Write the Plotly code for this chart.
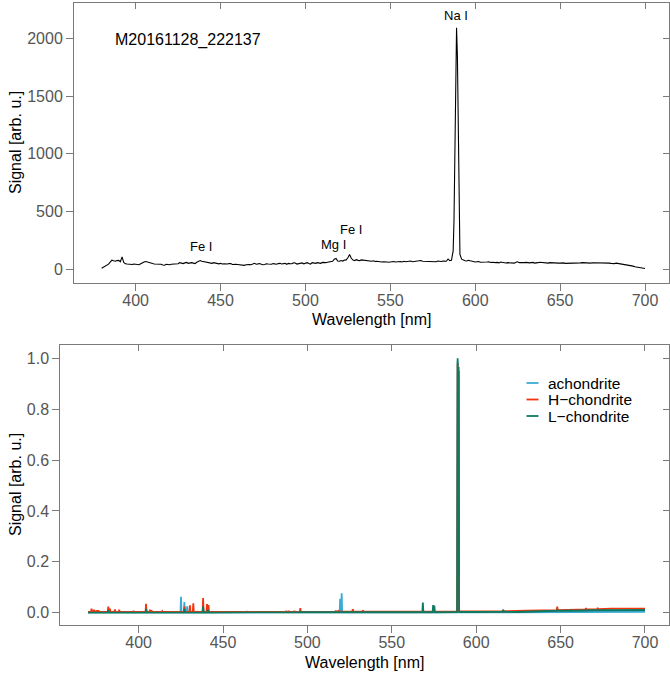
import plotly.graph_objects as go

# ---------------- top panel: single meteor spectrum ----------------
top_wavelength = (list(range(380, 586))
                  + [586, 587, 587.5, 588, 588.5, 589, 589.5, 590, 590.5, 591]
                  + list(range(592, 701)))
top_signal = [
    10, 18, 28, 36, 45, 62, 80, 74, 70, 76,     # 380-389
    78, 66, 108, 60, 48, 46, 45, 40, 42, 46,    # 390-399
    44, 38, 40, 48, 58, 64, 68, 62, 62, 55,     # 400-409
    50, 46, 46, 42, 40, 44, 38, 36, 44, 40,     # 410-419
    40, 44, 46, 50, 52, 48, 58, 54, 50, 56,     # 420-429
    60, 52, 56, 58, 54, 50, 62, 66, 76, 70,     # 430-439
    66, 62, 60, 56, 55, 52, 58, 54, 50, 48,     # 440-449
    52, 46, 48, 44, 46, 50, 50, 42, 45, 44,     # 450-459
    42, 40, 38, 36, 35, 40, 44, 42, 40, 48,     # 460-469
    52, 44, 48, 50, 45, 40, 42, 48, 46, 44,     # 470-479
    44, 50, 48, 44, 50, 52, 46, 50, 52, 44,     # 480-489
    52, 48, 48, 56, 55, 46, 50, 56, 56, 48,     # 490-499
    54, 58, 50, 46, 58, 54, 52, 58, 56, 52,     # 500-509
    60, 56, 58, 62, 66, 64, 70, 88, 95, 72,     # 510-519
    70, 76, 72, 80, 82, 100, 128, 96, 80, 76,   # 520-529
    84, 78, 76, 82, 80, 74, 78, 72, 72, 70,     # 530-539
    74, 68, 70, 66, 68, 64, 66, 62, 64, 62,     # 540-549
    66, 68, 68, 64, 66, 70, 68, 64, 70, 66,     # 550-559
    70, 68, 72, 66, 68, 70, 74, 72, 76, 70,     # 560-569
    70, 66, 68, 64, 66, 70, 70, 66, 72, 68,     # 570-579
    68, 72, 74, 70, 90, 76,                     # 580-585
    78, 160, 420, 1150, 1900, 2090, 1850, 1050, 380, 130,  # Na I peak 586-591
    88, 80, 74, 72, 78, 74, 70, 66,             # 592-599
    64, 66, 68, 62, 62, 58, 60, 64, 66, 60,     # 600-609
    62, 58, 58, 60, 56, 64, 60, 58, 55, 58,     # 610-619
    57, 60, 56, 54, 62, 66, 58, 56, 54, 58,     # 620-629
    60, 56, 56, 58, 60, 54, 54, 58, 62, 60,     # 630-639
    56, 54, 56, 54, 58, 56, 54, 52, 56, 54,     # 640-649
    54, 56, 56, 52, 52, 54, 54, 56, 52, 50,     # 650-659
    54, 52, 56, 58, 56, 54, 54, 52, 54, 57,     # 660-669
    57, 60, 60, 58, 56, 54, 54, 58, 58, 54,     # 670-679
    52, 50, 50, 54, 52, 48, 46, 44, 44, 42,     # 680-689
    38, 36, 32, 28, 22, 20, 18, 14, 12, 10,     # 690-699
    8,                                          # 700
]
top_labels = ["Na I", "Fe I", "Mg I", "Fe I"]
top_label_x = [588.8, 438.4, 516.5, 527.1]
top_label_y = [2196, 202, 214, 343]
meteor_id = "M20161128_222137"

# ---------------- bottom panel: normalised reference spectra ----------------
achondrite_wl = [370, 372.0, 372.3, 372.6, 380, 382.0, 382.3, 382.6, 395,
                 424.8, 425.1, 425.4, 426.8, 427.1, 427.4, 428.5, 428.8, 429.1,
                 434.5, 434.8, 435.1, 438.0, 438.3, 438.6, 450,
                 463.8, 464.1, 464.4, 500, 519.1, 519.4, 519.7, 520.0, 520.3, 520.6,
                 550, 588.7, 589.0, 589.3, 589.6, 589.9, 620, 650, 700]
achondrite_sig = [0.001, 0.002, 0.009, 0.002, 0.002, 0.002, 0.008, 0.002, 0.002,
                  0.002, 0.063, 0.002, 0.002, 0.042, 0.002, 0.002, 0.025, 0.002,
                  0.002, 0.006, 0.002, 0.002, 0.012, 0.002, 0.002,
                  0.002, 0.006, 0.002, 0.002, 0.002, 0.055, 0.003, 0.003, 0.077, 0.002,
                  0.002, 0.002, 0.99, 0.5, 0.95, 0.002, 0.002, 0.003, 0.004]

h_wl = [370, 371.8, 372.1, 372.4, 373.2, 373.5, 373.8, 374.7, 375.0, 375.3, 375.9, 376.2, 376.5,
        381.7, 382.0, 382.3, 382.7, 383.0, 383.3, 385.7, 386.0, 386.3, 388.2, 388.5, 388.8,
        396.7, 397.0, 397.3, 404.1, 404.4, 404.7, 406.4, 406.7, 407.0, 407.3, 407.6, 407.9,
        413.7, 414.0, 414.3, 426.9, 427.2, 427.5, 430.1, 430.4, 430.7, 432.1, 432.4, 432.7,
        437.9, 438.2, 438.5, 440.2, 440.5, 440.8, 441.1, 441.4, 441.7,
        470, 487.2, 487.5, 487.8, 488.7, 489.0, 489.3, 492.0, 492.3, 492.6,
        495.5, 495.8, 496.1, 516.5, 516.8, 517.1, 518.1, 518.4, 518.7,
        526.6, 526.9, 527.2, 532.6, 532.9, 533.2, 560,
        588.7, 589.0, 589.3, 589.6, 589.9, 600, 615.7, 616.0, 616.3, 630,
        647.7, 648.0, 648.3, 660, 664.7, 665.0, 665.3, 671.7, 672.0, 672.3, 680, 700]
h_sig = [0.003, 0.003, 0.016, 0.003, 0.003, 0.012, 0.003, 0.003, 0.010, 0.003, 0.003, 0.010, 0.003,
         0.003, 0.024, 0.003, 0.003, 0.016, 0.003, 0.003, 0.013, 0.003, 0.003, 0.012, 0.003,
         0.003, 0.007, 0.003, 0.003, 0.035, 0.003, 0.003, 0.012, 0.003, 0.003, 0.010, 0.003,
         0.003, 0.006, 0.003, 0.003, 0.024, 0.003, 0.003, 0.029, 0.003, 0.003, 0.037, 0.003,
         0.003, 0.058, 0.003, 0.003, 0.034, 0.004, 0.004, 0.030, 0.003,
         0.003, 0.003, 0.007, 0.003, 0.003, 0.007, 0.003, 0.003, 0.008, 0.003,
         0.003, 0.018, 0.003, 0.004, 0.008, 0.004, 0.004, 0.010, 0.004,
         0.004, 0.014, 0.004, 0.004, 0.010, 0.004, 0.004,
         0.005, 0.98, 0.5, 0.95, 0.005, 0.005, 0.006, 0.011, 0.006, 0.008,
         0.010, 0.024, 0.010, 0.012, 0.013, 0.018, 0.013, 0.014, 0.020, 0.014, 0.016, 0.016]

l_wl = [370, 381.7, 382.0, 382.3, 404.2, 404.5, 404.8, 426.8, 427.1, 427.4,
        437.9, 438.2, 438.5, 440.7, 441.0, 441.3, 495.5, 495.8, 496.1, 540,
        568.1, 568.4, 568.7, 574.2, 574.5, 574.8, 575.2, 575.5, 580,
        588.7, 589.0, 589.3, 589.6, 589.9, 600, 615.7, 616.0, 616.3, 625, 640,
        647.7, 648.0, 648.3, 655.9, 656.2, 656.5, 670, 700]
l_sig = [0.001, 0.001, 0.010, 0.001, 0.001, 0.015, 0.001, 0.001, 0.015, 0.001,
         0.001, 0.025, 0.001, 0.001, 0.012, 0.001, 0.002, 0.006, 0.002, 0.002,
         0.002, 0.040, 0.002, 0.002, 0.030, 0.002, 0.028, 0.002, 0.002,
         0.003, 1.0, 0.6, 0.966, 0.003, 0.003, 0.004, 0.012, 0.004, 0.003, 0.005,
         0.008, 0.012, 0.008, 0.008, 0.012, 0.008, 0.010, 0.011]

series_names = ["achondrite", "H\u2212chondrite", "L\u2212chondrite"]
series_colors = ["#3BAAD4", "#F2340F", "#0E7A60"]

W, H = 670, 673
FONT = "Liberation Sans, Arial, Helvetica, sans-serif"
TICKC = "#555555"
BOXC = "#7a7a7a"

def px(v):
    return v / W

def py(v):
    return 1 - v / H

fig = go.Figure()

fig.add_trace(go.Scatter(x=top_wavelength, y=top_signal, mode="lines",
                         line=dict(color="black", width=1.1),
                         name=meteor_id, showlegend=False, xaxis="x", yaxis="y"))
# dummy trace carrying the inward-pointing mirrored ticks
fig.add_trace(go.Scatter(x=[], y=[], showlegend=False, hoverinfo="skip",
                         xaxis="x3", yaxis="y3"))

for wl, sig, nm, col in zip([achondrite_wl, h_wl, l_wl],
                            [achondrite_sig, h_sig, l_sig],
                            series_names, series_colors):
    fig.add_trace(go.Scatter(x=wl, y=sig, mode="lines", name=nm,
                             line=dict(color=col, width=1.8),
                             showlegend=False, xaxis="x2", yaxis="y2"))
fig.add_trace(go.Scatter(x=[], y=[], showlegend=False, hoverinfo="skip",
                         xaxis="x4", yaxis="y4"))

TOP_X = [363.7, 714.3]
TOP_Y = [-118, 2305]
BOT_X = [353.6, 714.4]
BOT_Y = [-0.048, 1.052]

top_xdom = [px(74), px(669.3)]
top_ydom = [py(283), py(3)]
bot_xdom = [px(60.3), px(669.3)]
bot_ydom = [py(625), py(345)]

common = dict(showgrid=False, zeroline=False, ticks="outside", ticklen=7,
              tickcolor=BOXC, tickwidth=1, showline=True, linecolor=BOXC, linewidth=1,
              mirror=True, tickfont=dict(family=FONT, size=16, color=TICKC),
              automargin=False, fixedrange=True)
xcommon = dict(common, ticklabelstandoff=-4)
inner = dict(showgrid=False, zeroline=False, ticks="inside", ticklen=6,
             tickcolor=BOXC, tickwidth=1, showline=False, showticklabels=False,
             automargin=False, fixedrange=True)

fig.update_layout(
    width=W, height=H, margin=dict(l=0, r=0, t=0, b=0),
    paper_bgcolor="white", plot_bgcolor="white", showlegend=False,
    font=dict(family=FONT, color="black"),
    xaxis=dict(domain=top_xdom, range=TOP_X, anchor="y",
               tickvals=[400, 450, 500, 550, 600, 650, 700], **xcommon),
    yaxis=dict(domain=top_ydom, range=TOP_Y, anchor="x",
               tickvals=[0, 500, 1000, 1500, 2000], **common),
    xaxis3=dict(overlaying="x", side="top", anchor="y3", range=TOP_X,
                tickvals=[400, 450, 500, 550, 600, 650, 700], **inner),
    yaxis3=dict(overlaying="y", side="right", anchor="x3", range=TOP_Y,
                tickvals=[0, 500, 1000, 1500, 2000], **inner),
    xaxis2=dict(domain=bot_xdom, range=BOT_X, anchor="y2",
                tickvals=[400, 450, 500, 550, 600, 650, 700], **xcommon),
    yaxis2=dict(domain=bot_ydom, range=BOT_Y, anchor="x2",
                tickvals=[0, 0.2, 0.4, 0.6, 0.8, 1.0], tickformat=".1f", **common),
    xaxis4=dict(overlaying="x2", side="top", anchor="y4", range=BOT_X,
                tickvals=[400, 450, 500, 550, 600, 650, 700], **inner),
    yaxis4=dict(overlaying="y2", side="right", anchor="x4", range=BOT_Y,
                tickvals=[0, 0.2, 0.4, 0.6, 0.8, 1.0], **inner),
)

ann = []
# peak labels
for t, x, y in zip(top_labels, top_label_x, top_label_y):
    ann.append(dict(text=t, x=x, y=y, xref="x", yref="y", showarrow=False,
                    font=dict(family=FONT, size=13, color="black")))
ann.append(dict(text=meteor_id, x=px(113), y=py(39.5), xref="paper", yref="paper",
                xanchor="left", yanchor="middle", showarrow=False,
                font=dict(family=FONT, size=16, color="black")))
# axis titles
for yc in (143, 485):
    ann.append(dict(text="Signal [arb. u.]", x=px(15), y=py(yc), xref="paper", yref="paper",
                    textangle=-90, showarrow=False, xanchor="center", yanchor="middle",
                    font=dict(family=FONT, size=16, color="black")))
for xc, yc in ((371.6, 319), (364.8, 662)):
    ann.append(dict(text="Wavelength [nm]", x=px(xc), y=py(yc), xref="paper", yref="paper",
                    showarrow=False, xanchor="center", yanchor="middle",
                    font=dict(family=FONT, size=16, color="black")))
# legend (drawn as text + short line keys)
leg_y = [383, 399.5, 416]
shapes = []
for nm, col, yy in zip(series_names, series_colors, leg_y):
    ann.append(dict(text=nm, x=px(546), y=py(yy), xref="paper", yref="paper",
                    xanchor="left", yanchor="middle", showarrow=False,
                    font=dict(family=FONT, size=15.5, color="black")))
    shapes.append(dict(type="line", xref="paper", yref="paper",
                       x0=px(526.5), x1=px(538.5), y0=py(yy), y1=py(yy),
                       line=dict(color=col, width=1.8)))
fig.update_layout(annotations=ann, shapes=shapes)

fig.write_html("out.html")
